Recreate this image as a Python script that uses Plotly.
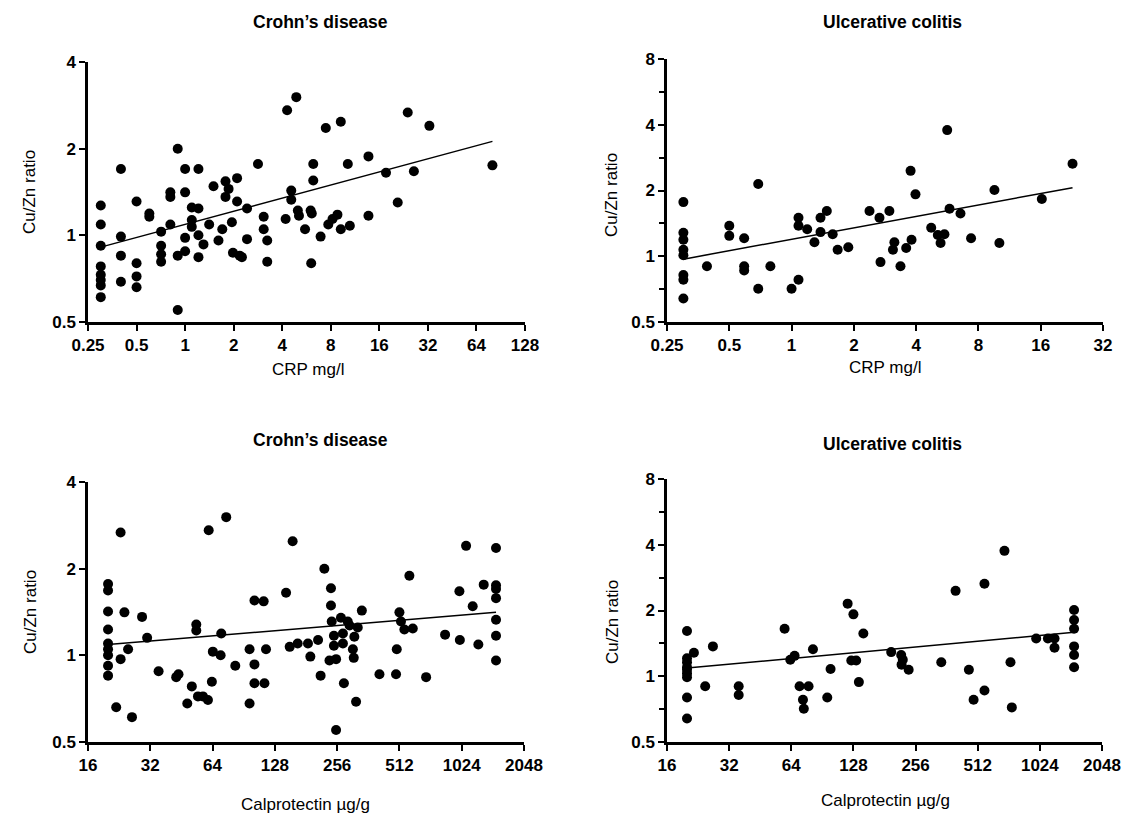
import math
import plotly.graph_objects as go

# ---------------- data ----------------
# Panel A: Crohn's disease, CRP (mg/l) vs Cu/Zn ratio
crp_cd_x = [0.3, 0.3, 0.3, 0.3, 0.3, 0.3, 0.3, 0.3,
            0.4, 0.4, 0.4, 0.4,
            0.5, 0.5, 0.5, 0.5,
            0.6, 0.6,
            0.71, 0.71, 0.71, 0.71,
            0.81, 0.81, 0.81,
            0.9, 0.9, 0.9,
            1.0, 1.0, 1.0, 1.0,
            1.1, 1.1, 1.1,
            1.21, 1.21, 1.21, 1.21,
            1.3, 1.41, 1.5, 1.61, 1.7,
            1.78, 1.78,
            1.86, 1.95, 1.98,
            2.1, 2.1,
            2.18, 2.25,
            2.42, 2.42,
            2.83,
            3.07, 3.07,
            3.23, 3.23,
            4.2,
            4.55, 4.55,
            4.89, 4.29, 5.0, 5.08, 5.54, 6.0, 6.1, 6.05,
            6.23, 6.23,
            6.92, 7.45, 7.72, 8.2, 8.8,
            9.23, 9.23,
            10.2, 10.5,
            13.7, 13.7,
            17.6, 20.8, 24.0, 26.2, 32.7, 80.4]
crp_cd_y = [1.27, 1.09, 0.92, 0.78, 0.73, 0.70, 0.67, 0.61,
            1.70, 0.99, 0.85, 0.69,
            1.31, 0.80, 0.72, 0.66,
            1.19, 1.16,
            1.03, 0.92, 0.86, 0.81,
            1.41, 1.36, 1.09,
            2.0, 0.85, 0.55,
            1.70, 1.41, 0.98, 0.88,
            1.25, 1.13, 1.07,
            1.70, 1.24, 1.0, 0.84,
            0.93, 1.09, 1.48, 0.96, 1.05,
            1.54, 1.36,
            1.45, 1.11, 0.87,
            1.58, 1.31,
            0.85, 0.84,
            1.24, 0.97,
            1.77,
            1.16, 1.05,
            0.96, 0.81,
            1.14,
            1.43, 1.33,
            3.02, 2.72, 1.22, 1.17, 1.05, 1.22, 1.19, 0.80,
            1.77, 1.55,
            0.99, 2.36, 1.09, 1.14, 1.18,
            2.48, 1.05,
            1.77, 1.08,
            1.88, 1.17,
            1.65, 1.30, 2.67, 1.67, 2.40, 1.75]
crp_cd_fit_x = [0.3, 80.4]
crp_cd_fit_y = [0.91, 2.12]

# Panel B: Ulcerative colitis, CRP (mg/l) vs Cu/Zn ratio
crp_uc_x = [0.3, 0.3, 0.3, 0.3, 0.3, 0.3, 0.3, 0.3,
            0.39,
            0.5, 0.5,
            0.59, 0.59, 0.59,
            0.69, 0.69,
            0.79, 1.0,
            1.08, 1.08, 1.08,
            1.19, 1.29,
            1.38, 1.38,
            1.48, 1.58, 1.67, 1.88, 2.38, 2.66, 2.69, 2.97, 3.09, 3.14,
            3.36, 3.58, 3.76, 3.80, 3.97, 4.73, 5.09, 5.25, 5.48, 5.65,
            5.80, 6.55, 7.37, 9.56, 10.1, 16.2, 22.8]
crp_uc_y = [1.77, 1.28, 1.19, 1.07, 1.01, 0.82, 0.78, 0.64,
            0.90,
            1.38, 1.24,
            1.21, 0.90, 0.86,
            2.14, 0.71,
            0.90, 0.71,
            1.50, 1.38, 0.78,
            1.33, 1.16,
            1.50, 1.29,
            1.61, 1.26, 1.07, 1.10, 1.61, 1.50, 0.94, 1.61, 1.07, 1.16,
            0.90, 1.09, 2.46, 1.19, 1.92, 1.35, 1.25, 1.15, 1.26, 3.78,
            1.65, 1.57, 1.21, 2.01, 1.15, 1.83, 2.65]
crp_uc_fit_x = [0.3, 22.8]
crp_uc_fit_y = [0.97, 2.06]

# Panel C: Crohn's disease, faecal calprotectin (µg/g) vs Cu/Zn ratio
cal_cd_x = [20, 20, 20, 20, 20, 20, 20, 20, 20,
            21.9, 23.0, 23.0, 24.0, 25.0, 26.1, 29.2, 30.9, 35.1, 42.7,
            43.8, 48.3, 50.8, 53.4, 53.4, 54.4, 57.5, 60.8, 61.3, 63.5,
            64.2, 70.0, 70.5, 74.5, 82.4, 96.6, 96.6, 102, 102, 102,
            113, 114, 116, 145, 151, 156, 165, 185, 190, 207,
            213, 222, 235, 239, 239, 241, 247, 247, 253, 253,
            267, 273, 273, 276, 288, 294, 305, 308, 310, 316,
            322, 337, 410, 493, 497, 512, 521, 541, 572, 594,
            689, 851, 998, 1003, 1075, 1157, 1232, 1308,
            1500, 1500, 1500, 1500, 1500, 1500, 1500]
cal_cd_y = [1.77, 1.68, 1.42, 1.23, 1.10, 1.05, 1.0, 0.92, 0.85,
            0.66, 2.67, 0.97, 1.41, 1.05, 0.61, 1.36, 1.15, 0.88, 0.84,
            0.86, 0.68, 0.78, 1.28, 1.22, 0.72, 0.72, 0.70, 2.72, 0.81,
            1.03, 1.00, 1.19, 3.02, 0.92, 0.68, 1.05, 0.93, 0.80, 1.55,
            1.54, 0.80, 1.05, 1.65, 1.07, 2.49, 1.10, 1.10, 0.99, 1.13,
            0.85, 2.0, 0.96, 1.71, 1.49, 1.31, 1.17, 1.08, 0.97, 0.55,
            1.35, 1.19, 1.10, 0.80, 1.31, 1.27, 1.05, 0.98, 1.16, 0.69,
            1.25, 1.43, 0.86, 0.86, 1.05, 1.41, 1.31, 1.23, 1.89, 1.24,
            0.84, 1.18, 1.67, 1.13, 2.40, 1.48, 1.09, 1.76,
            2.36, 1.75, 1.70, 1.58, 1.33, 1.17, 0.96]
cal_cd_fit_x = [20, 1500]
cal_cd_fit_y = [1.09, 1.41]

# Panel D: Ulcerative colitis, faecal calprotectin (µg/g) vs Cu/Zn ratio
cal_uc_x = [20, 20, 20, 20, 20, 20, 20, 20, 20,
            21.6, 24.5, 26.7, 35.6, 35.6, 59.4, 63.3, 66.4, 70.2, 72.9,
            73.6, 77.6, 81.5, 95.6, 99.2, 120, 125, 128, 132, 136,
            143, 195, 218, 219, 222, 237, 341, 400, 464, 489,
            552, 552, 690, 738, 749, 983, 1120, 1206, 1206,
            1500, 1500, 1500, 1500, 1500, 1500]
cal_uc_y = [1.61, 1.21, 1.16, 1.10, 1.07, 1.03, 0.99, 0.80, 0.64,
            1.28, 0.90, 1.37, 0.90, 0.82, 1.65, 1.19, 1.24, 0.90, 0.78,
            0.71, 0.90, 1.33, 0.80, 1.08, 2.15, 1.18, 1.92, 1.18, 0.94,
            1.57, 1.29, 1.25, 1.13, 1.19, 1.07, 1.16, 2.46, 1.07, 0.78,
            2.65, 0.86, 3.75, 1.16, 0.72, 1.49, 1.49, 1.49, 1.35,
            2.01, 1.81, 1.65, 1.37, 1.25, 1.10]
cal_uc_fit_x = [20, 1500]
cal_uc_fit_y = [1.09, 1.59]

# tick labels
crp_cd_xticks = [0.25, 0.5, 1, 2, 4, 8, 16, 32, 64, 128]
crp_uc_xticks = [0.25, 0.5, 1, 2, 4, 8, 16, 32]
cal_xticks = [16, 32, 64, 128, 256, 512, 1024, 2048]
cd_yticks = [0.5, 1, 2, 4]
uc_yticks = [0.5, 1, 2, 4, 8]
uc_yminor = [0.707, 1.414, 2.828, 5.657]

titles = ["Crohn’s disease", "Ulcerative colitis", "Crohn’s disease", "Ulcerative colitis"]
x_titles = ["CRP mg/l", "CRP mg/l", "Calprotectin µg/g", "Calprotectin µg/g"]
y_title = "Cu/Zn ratio"

# ---------------- figure ----------------
W, H = 1127, 815
FONT = "Liberation Sans, Arial, sans-serif"

def px_x(p):
    return p / W

def px_y(p):
    return 1 - p / H

panels = [
    dict(x=crp_cd_x, y=crp_cd_y, fx=crp_cd_fit_x, fy=crp_cd_fit_y,
         xt=crp_cd_xticks, yt=cd_yticks, minor=None,
         xd=(88, 525), yd=(62, 322)),
    dict(x=crp_uc_x, y=crp_uc_y, fx=crp_uc_fit_x, fy=crp_uc_fit_y,
         xt=crp_uc_xticks, yt=uc_yticks, minor=uc_yminor,
         xd=(667, 1103), yd=(59, 322)),
    dict(x=cal_cd_x, y=cal_cd_y, fx=cal_cd_fit_x, fy=cal_cd_fit_y,
         xt=cal_xticks, yt=cd_yticks, minor=None,
         xd=(88, 524), yd=(482, 742)),
    dict(x=cal_uc_x, y=cal_uc_y, fx=cal_uc_fit_x, fy=cal_uc_fit_y,
         xt=cal_xticks, yt=uc_yticks, minor=uc_yminor,
         xd=(667, 1102), yd=(479, 742)),
]

fig = go.Figure()
layout = dict(
    width=W, height=H, autosize=False,
    margin=dict(l=0, r=0, t=0, b=0, pad=0, autoexpand=False),
    paper_bgcolor="white", plot_bgcolor="white",
    showlegend=False,
    font=dict(family=FONT, color="black"),
)

for i, p in enumerate(panels):
    n = "" if i == 0 else str(i + 1)
    xa, ya = "x" + n, "y" + n
    fig.add_trace(go.Scatter(
        x=p["x"], y=p["y"], mode="markers", xaxis=xa, yaxis=ya,
        marker=dict(symbol="circle", size=10, color="black", line=dict(width=0)),
        hoverinfo="x+y"))
    fig.add_trace(go.Scatter(
        x=p["fx"], y=p["fy"], mode="lines", xaxis=xa, yaxis=ya,
        line=dict(color="black", width=1.5), hoverinfo="skip"))

    def lbl(v):
        return ("%g" % v)

    common = dict(
        type="log", showline=True, linecolor="black", linewidth=2.5,
        ticks="outside", ticklen=6, tickwidth=2, tickcolor="black",
        showgrid=False, zeroline=False, automargin=False,
        tickfont=dict(family=FONT, size=17, color="black", weight="bold"),
        fixedrange=True,
    )
    xaxis = dict(
        common, domain=[px_x(p["xd"][0]), px_x(p["xd"][1])],
        range=[math.log10(p["xt"][0]), math.log10(p["xt"][-1])],
        tickvals=p["xt"], ticktext=[lbl(v) for v in p["xt"]],
        anchor=ya,
    )
    yaxis = dict(
        common, domain=[px_y(p["yd"][1]), px_y(p["yd"][0])],
        range=[math.log10(p["yt"][0]), math.log10(p["yt"][-1])],
        tickvals=p["yt"], ticktext=[lbl(v) for v in p["yt"]],
        anchor=xa,
    )
    if p["minor"]:
        yaxis["minor"] = dict(tickvals=p["minor"], ticks="outside", ticklen=5,
                              tickwidth=2, tickcolor="black", showgrid=False)
    layout["xaxis" + n] = xaxis
    layout["yaxis" + n] = yaxis

fig.update_layout(**layout)

# titles and axis titles
title_pos = [(320, 22), (892, 22), (320, 440), (892, 444)]
xt_pos = [(308, 369), (885, 367), (305, 804), (885, 800)]
yt_pos = [(30, 192), (612, 195), (30, 612), (612, 622)]
for i in range(4):
    fig.add_annotation(text="<b>%s</b>" % titles[i], x=px_x(title_pos[i][0]), y=px_y(title_pos[i][1]),
                       xref="paper", yref="paper", showarrow=False,
                       font=dict(family=FONT, size=17.5, color="black"),
                       xanchor="center", yanchor="middle")
    fig.add_annotation(text=x_titles[i], x=px_x(xt_pos[i][0]), y=px_y(xt_pos[i][1]),
                       xref="paper", yref="paper", showarrow=False,
                       font=dict(family=FONT, size=17, color="black"),
                       xanchor="center", yanchor="middle")
    fig.add_annotation(text=y_title, x=px_x(yt_pos[i][0]), y=px_y(yt_pos[i][1]),
                       xref="paper", yref="paper", showarrow=False, textangle=-90,
                       font=dict(family=FONT, size=17, color="black"),
                       xanchor="center", yanchor="middle")

fig.write_html("out.html", config={"displayModeBar": False},
               post_script="document.body.style.margin='0';document.body.style.overflow='hidden';")
